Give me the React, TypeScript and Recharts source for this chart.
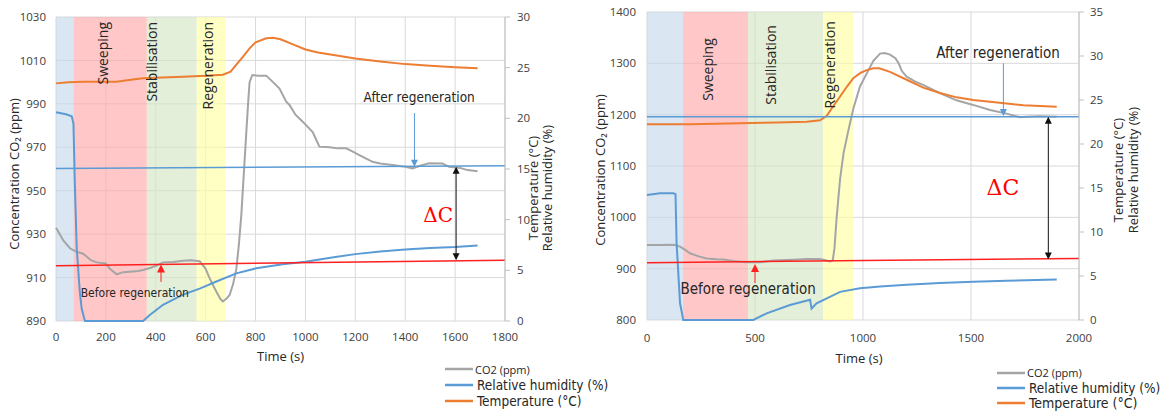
import React from 'react';
import {
  ComposedChart, Line, XAxis, YAxis, CartesianGrid, ReferenceArea,
  ReferenceLine, ReferenceDot, Legend,
} from 'recharts';

type Pt = [number, number];

// ---------------- Left panel data ----------------
const L_X_TICKS = [0, 200, 400, 600, 800, 1000, 1200, 1400, 1600, 1800];
const L_Y_TICKS = [890, 910, 930, 950, 970, 990, 1010, 1030];
const L_R_TICKS = [0, 5, 10, 15, 20, 25, 30];

const L_CO2: Pt[] = [
  [0, 933], [30, 927], [56, 923.5], [80, 922], [109, 921], [140, 918], [163, 917], [200, 916.5],
  [216, 914], [243, 911.5], [270, 912.5], [296, 912.7], [330, 913], [349, 913.5], [380, 914.5],
  [403, 915.5], [429, 917], [470, 917.2], [509, 917.8], [540, 918], [576, 917.5], [600, 914],
  [616, 909.6], [643, 903.5], [660, 900], [669, 899], [685, 900.5], [696, 902], [710, 907],
  [723, 914], [733, 925], [743, 939], [753, 958], [763, 977], [770, 990], [776, 1000],
  [787, 1003.3], [810, 1003], [843, 1003], [870, 1000], [896, 997], [923, 991], [936, 989.5],
  [960, 985], [989, 981.8], [1029, 977], [1045, 973], [1056, 970.3], [1096, 970], [1130, 969.5],
  [1163, 969.5], [1190, 968], [1216, 966.4], [1269, 963.3], [1300, 962.5], [1349, 961.8],
  [1400, 961], [1429, 960.3], [1460, 961.5], [1496, 962.6], [1549, 962.5], [1576, 961],
  [1620, 960.5], [1650, 959.5], [1690, 959],
];
const L_RH: Pt[] = [
  [0, 20.6], [40, 20.4], [63, 20.2], [70, 19.5], [75, 14], [83, 7.2], [95, 3], [103, 1.2],
  [116, 0], [349, 0], [376, 0.6], [429, 1.6], [509, 2.6], [576, 3.2], [643, 3.9], [723, 4.7],
  [803, 5.2], [909, 5.6], [1000, 5.85], [1100, 6.25], [1200, 6.6], [1300, 6.85], [1400, 7.05],
  [1500, 7.2], [1600, 7.3], [1690, 7.45],
];
const L_TEMP: Pt[] = [
  [0, 23.45], [50, 23.55], [109, 23.6], [243, 23.6], [300, 23.8], [349, 23.95], [400, 24.0],
  [509, 24.1], [600, 24.2], [669, 24.3], [700, 24.6], [723, 25.3], [750, 26.1], [776, 26.9],
  [800, 27.5], [843, 27.9], [870, 27.95], [900, 27.8], [950, 27.3], [1000, 26.8], [1050, 26.5],
  [1100, 26.3], [1200, 25.9], [1300, 25.6], [1400, 25.35], [1500, 25.2], [1600, 25.05],
  [1690, 24.95],
];
const L_PHASE_EDGES = [0, 70, 364, 564, 680];
const L_PHASE_LABELS = [
  { text: 'Sweeping', t: 188, c: 1027.7 },
  { text: 'Stabilisation', t: 384, c: 1027.7 },
  { text: 'Regeneration', t: 608, c: 1027.7 },
];
const L_AFTER_LINE: Pt[] = [[0, 960.2], [1800, 961.5]];
const L_BEFORE_LINE: Pt[] = [[0, 915.5], [1800, 918]];
const L_BEFORE_ARROW = { t: 421, from: 908, to: 916 };
const L_AFTER_ARROW = { t: 1437, from: 985.8, to: 961 };
const L_DELTA_ARROW = { t: 1604, from: 961, to: 918 };
const L_BEFORE_TEXT = { t: 316, c: 902.9 };
const L_AFTER_TEXT = { t: 1456, c: 993.2 };
const L_DELTA_TEXT = { t: 1532, c: 938.8 };

// ---------------- Right panel data ----------------
const R_X_TICKS = [0, 500, 1000, 1500, 2000];
const R_Y_TICKS = [800, 900, 1000, 1100, 1200, 1300, 1400];
const R_R_TICKS = [0, 5, 10, 15, 20, 25, 30, 35];

const R_CO2: Pt[] = [
  [0, 946], [60, 946], [106, 946.5], [130, 946], [153, 943], [175, 937], [199, 930], [240, 924],
  [276, 920], [320, 918.5], [353, 918], [400, 915], [461, 912.4], [523, 912.4], [586, 916],
  [650, 917], [700, 918], [740, 919], [801, 919], [830, 916], [847, 914], [860, 916],
  [868, 940], [878, 1000], [894, 1075], [910, 1125], [930, 1165], [956, 1213], [986, 1255],
  [1017, 1280], [1048, 1305], [1079, 1319], [1100, 1320], [1125, 1317], [1150, 1310],
  [1165, 1300], [1180, 1285], [1202, 1274], [1240, 1265], [1278, 1258], [1356, 1242],
  [1433, 1228], [1510, 1219], [1588, 1209], [1665, 1202], [1727, 1195], [1760, 1196],
  [1819, 1197], [1897, 1196],
];
const R_RH: Pt[] = [
  [0, 14.2], [60, 14.4], [122, 14.4], [132, 14.3], [137, 8.7], [153, 1.9], [168, 0], [492, 0],
  [554, 0.76], [662, 1.7], [755, 2.3], [762, 1.3], [785, 1.9], [894, 3.2], [986, 3.6],
  [1079, 3.8], [1202, 4.0], [1356, 4.2], [1510, 4.35], [1665, 4.47], [1897, 4.6],
];
const R_TEMP: Pt[] = [
  [0, 22.24], [200, 22.25], [431, 22.35], [600, 22.45], [740, 22.54], [801, 22.7], [832, 23.2],
  [860, 24.2], [894, 25.4], [925, 26.5], [956, 27.5], [990, 28.1], [1017, 28.4], [1048, 28.6],
  [1075, 28.6], [1125, 28.2], [1202, 27.3], [1279, 26.4], [1356, 25.8], [1433, 25.3],
  [1510, 25.0], [1588, 24.8], [1665, 24.6], [1742, 24.4], [1897, 24.24],
];
const R_PHASE_EDGES = [0, 167, 468, 815, 954];
const R_PHASE_LABELS = [
  { text: 'Sweeping', t: 278, c: 1288 },
  { text: 'Stabilisation', t: 574, c: 1297 },
  { text: 'Regeneration', t: 847, c: 1297 },
];
const R_AFTER_LINE: Pt[] = [[0, 1196], [2000, 1196]];
const R_BEFORE_LINE: Pt[] = [[0, 911.6], [2000, 920]];
const R_BEFORE_ARROW = { t: 500, from: 872, to: 909 };
const R_AFTER_ARROW = { t: 1650, from: 1300, to: 1197.5 };
const R_DELTA_ARROW = { t: 1858, from: 1196, to: 918 };
const R_BEFORE_TEXT = { t: 468, c: 860 };
const R_AFTER_TEXT = { t: 1625, c: 1320 };
const R_DELTA_TEXT = { t: 1648, c: 1059 };

const LEGEND_ITEMS = ['CO2 (ppm)', 'Relative humidity (%)', 'Temperature (°C)'];

// ---------------- styles ----------------
const C_CO2 = '#a5a5a5';
const C_RH = '#5b9bd5';
const C_TEMP = '#ed7d31';
const C_RED = '#ff2020';
const PHASE_FILLS = ['#c6d9eb', '#ffa9a9', '#d4e6c5', '#ffffa4'];
const PHASE_OPACITY = 0.65;
const TICK_FONT = "'Open Sans', sans-serif";
const ANNOT_FONT = "'DejaVu Sans Condensed', 'DejaVu Sans', sans-serif";

const toRows = (pts: Pt[]) => pts.map(([t, v]) => ({ t, v }));

function arrowShape(color: string, both: boolean, width: number, hl: number, hw: number) {
  return (p: any) => {
    const { x1, y1, x2, y2 } = p;
    if ([x1, y1, x2, y2].some((v) => typeof v !== 'number' || isNaN(v))) return <g />;
    const dx = x2 - x1;
    const dy = y2 - y1;
    const len = Math.hypot(dx, dy) || 1;
    const ux = dx / len;
    const uy = dy / len;
    const head = (x: number, y: number, vx: number, vy: number) =>
      `${x},${y} ${x - vx * hl - vy * hw},${y - vy * hl + vx * hw} ${x - vx * hl + vy * hw},${y - vy * hl - vx * hw}`;
    const sx = both ? x1 + ux * hl * 0.8 : x1;
    const sy = both ? y1 + uy * hl * 0.8 : y1;
    return (
      <g>
        <line x1={sx} y1={sy} x2={x2 - ux * hl * 0.8} y2={y2 - uy * hl * 0.8} stroke={color} strokeWidth={width} />
        <polygon points={head(x2, y2, ux, uy)} fill={color} />
        {both && <polygon points={head(x1, y1, -ux, -uy)} fill={color} />}
      </g>
    );
  };
}

function textShape(text: string, style: React.CSSProperties, rotate: boolean, anchor: 'start' | 'middle' | 'end') {
  return (p: any) => {
    const { cx, cy } = p;
    if (typeof cx !== 'number' || typeof cy !== 'number') return <g />;
    return (
      <text
        x={cx}
        y={cy}
        textAnchor={anchor}
        dominantBaseline="central"
        transform={rotate ? `rotate(-90 ${cx} ${cy})` : undefined}
        style={style}
      >
        {text}
      </text>
    );
  };
}

function YTitle(props: any) {
  const vb = props.viewBox || {};
  const { lines, dxs, dy, fontSize } = props;
  const y = (vb.y ?? 0) + (vb.height ?? 0) / 2 + dy;
  return (
    <g>
      {lines.map((ln: string, i: number) => {
        const x = (vb.x ?? 0) + dxs[i];
        return (
          <text
            key={i}
            x={x}
            y={y}
            textAnchor="middle"
            dominantBaseline="central"
            transform={`rotate(-90 ${x} ${y})`}
            style={{ fontFamily: TICK_FONT, fontSize, fill: '#262626' }}
          >
            {ln}
          </text>
        );
      })}
    </g>
  );
}

function XTitle(props: any) {
  const vb = props.viewBox || {};
  const { dx, dy, fontSize } = props;
  const x = (vb.x ?? 0) + (vb.width ?? 0) / 2 + dx;
  const y = (vb.y ?? 0) + dy;
  return (
    <text x={x} y={y} textAnchor="middle" dominantBaseline="central" style={{ fontFamily: TICK_FONT, fontSize, fill: '#262626' }}>
      Time (s)
    </text>
  );
}

function LegendBox(props: { rowH: number; sizes: number[] }) {
  const colors = [C_CO2, C_RH, C_TEMP];
  return (
    <div style={{ fontFamily: ANNOT_FONT, color: '#262626' }}>
      {LEGEND_ITEMS.map((name, i) => (
        <div key={name} style={{ display: 'flex', alignItems: 'center', height: props.rowH, whiteSpace: 'nowrap' }}>
          <svg width={28} height={6} style={{ display: 'block' }}>
            <line x1={0} y1={3} x2={28} y2={3} stroke={colors[i]} strokeWidth={2.5} />
          </svg>
          <span style={{ fontSize: props.sizes[i], marginLeft: i === 0 ? 2 : 4, fontFamily: i === 0 ? TICK_FONT : ANNOT_FONT }}>{name}</span>
        </div>
      ))}
    </div>
  );
}

interface Arrow { t: number; from: number; to: number }
interface Pos { t: number; c: number }

interface PanelProps {
  left: number;
  width: number;
  margin: { top: number; right: number; bottom: number; left: number };
  yWidth: number;
  xTicks: number[];
  yTicks: number[];
  rTicks: number[];
  co2: Pt[];
  rh: Pt[];
  temp: Pt[];
  edges: number[];
  phaseLabels: { text: string; t: number; c: number }[];
  phaseAnchor: 'end' | 'middle';
  phaseFont: number;
  afterLine: Pt[];
  beforeLine: Pt[];
  beforeArrow: Arrow;
  afterArrow: Arrow;
  deltaArrow: Arrow;
  beforeText: Pos;
  afterText: Pos;
  deltaText: Pos;
  beforeFont: number;
  afterFont: number;
  deltaFont: number;
  xTickGap: number;
  yTickGap: number;
  rTickGap: number;
  yTitleDx: number;
  yTitleDy: number;
  rTitleDxs: number[];
  rTitleDy: number;
  xTitleDx: number;
  xTitleDy: number;
  legendPos: { left: number; top: number };
  legendRowH: number;
  legendSizes: number[];
}

function Panel(p: PanelProps) {
  const xMax = p.xTicks[p.xTicks.length - 1];
  const tickStyle = { fontSize: 11.5, fill: '#404040', fontFamily: TICK_FONT };
  return (
    <div style={{ position: 'absolute', left: p.left, top: 0 }}>
      <ComposedChart width={p.width} height={412} margin={p.margin}>
        <CartesianGrid yAxisId="left" stroke="#d9d9d9" strokeWidth={1} />
        <XAxis
          dataKey="t"
          type="number"
          domain={[0, xMax]}
          ticks={p.xTicks}
          height={35}
          axisLine={false}
          tickLine={false}
          tickSize={6}
          tickMargin={p.xTickGap}
          tick={tickStyle}
          interval={0}
          allowDuplicatedCategory={false}
          label={<XTitle dx={p.xTitleDx} dy={p.xTitleDy} fontSize={13} />}
        />
        <YAxis
          yAxisId="left"
          orientation="left"
          type="number"
          domain={[p.yTicks[0], p.yTicks[p.yTicks.length - 1]]}
          ticks={p.yTicks}
          width={p.yWidth}
          axisLine={false}
          tickLine={false}
          tickSize={6}
          tickMargin={p.yTickGap}
          tick={tickStyle}
          interval={0}
          label={<YTitle lines={['Concentration CO₂ (ppm)']} dxs={[p.yTitleDx]} dy={p.yTitleDy} fontSize={13} />}
        />
        <YAxis
          yAxisId="right"
          orientation="right"
          type="number"
          domain={[p.rTicks[0], p.rTicks[p.rTicks.length - 1]]}
          ticks={p.rTicks}
          width={45}
          axisLine={{ stroke: '#bfbfbf' }}
          tickLine={{ stroke: '#bfbfbf' }}
          tickSize={5}
          tickMargin={p.rTickGap}
          tick={tickStyle}
          interval={0}
          label={<YTitle lines={['Temperature (°C)', 'Relative humidity (%)']} dxs={p.rTitleDxs} dy={p.rTitleDy} fontSize={13} />}
        />
        {p.edges.slice(0, -1).map((e, i) => (
          <ReferenceArea
            key={'pa' + i}
            yAxisId="left"
            x1={e}
            x2={p.edges[i + 1]}
            fill={PHASE_FILLS[i]}
            fillOpacity={PHASE_OPACITY}
            stroke="none"
          />
        ))}
        <Line data={toRows(p.co2)} dataKey="v" yAxisId="left" name={LEGEND_ITEMS[0]} stroke={C_CO2} strokeWidth={2} dot={false} type="linear" isAnimationActive={false} />
        <Line data={toRows(p.rh)} dataKey="v" yAxisId="right" name={LEGEND_ITEMS[1]} stroke={C_RH} strokeWidth={2} dot={false} type="linear" isAnimationActive={false} />
        <Line data={toRows(p.temp)} dataKey="v" yAxisId="right" name={LEGEND_ITEMS[2]} stroke={C_TEMP} strokeWidth={2} dot={false} type="linear" isAnimationActive={false} />
        <ReferenceLine
          yAxisId="left"
          segment={[{ x: p.afterLine[0][0], y: p.afterLine[0][1] }, { x: p.afterLine[1][0], y: p.afterLine[1][1] }]}
          stroke={C_RH}
          strokeWidth={1.5}
        />
        <ReferenceLine
          yAxisId="left"
          segment={[{ x: p.beforeLine[0][0], y: p.beforeLine[0][1] }, { x: p.beforeLine[1][0], y: p.beforeLine[1][1] }]}
          stroke={C_RED}
          strokeWidth={1.5}
        />
        <ReferenceLine
          yAxisId="left"
          segment={[{ x: p.beforeArrow.t, y: p.beforeArrow.from }, { x: p.beforeArrow.t, y: p.beforeArrow.to }]}
          shape={arrowShape(C_RED, false, 1, 8, 4)}
        />
        <ReferenceLine
          yAxisId="left"
          segment={[{ x: p.afterArrow.t, y: p.afterArrow.from }, { x: p.afterArrow.t, y: p.afterArrow.to }]}
          shape={arrowShape(C_RH, false, 1, 7, 3.5)}
        />
        <ReferenceLine
          yAxisId="left"
          segment={[{ x: p.deltaArrow.t, y: p.deltaArrow.from }, { x: p.deltaArrow.t, y: p.deltaArrow.to }]}
          shape={arrowShape('#111111', true, 1, 7, 3.5)}
        />
        {p.phaseLabels.map((lb) => (
          <ReferenceDot
            key={lb.text}
            yAxisId="left"
            x={lb.t}
            y={lb.c}
            r={0}
            shape={textShape(lb.text, { fontFamily: TICK_FONT, fontSize: p.phaseFont, fill: '#262626' }, true, p.phaseAnchor)}
          />
        ))}
        <ReferenceDot
          yAxisId="left"
          x={p.beforeText.t}
          y={p.beforeText.c}
          r={0}
          shape={textShape('Before regeneration', { fontFamily: ANNOT_FONT, fontSize: p.beforeFont, fill: '#262626' }, false, 'middle')}
        />
        <ReferenceDot
          yAxisId="left"
          x={p.afterText.t}
          y={p.afterText.c}
          r={0}
          shape={textShape('After regeneration', { fontFamily: ANNOT_FONT, fontSize: p.afterFont, fill: '#262626' }, false, 'middle')}
        />
        <ReferenceDot
          yAxisId="left"
          x={p.deltaText.t}
          y={p.deltaText.c}
          r={0}
          shape={textShape('ΔC', { fontFamily: "'DejaVu Serif', 'Liberation Serif', serif", fontSize: p.deltaFont, fill: '#ff0000' }, false, 'middle')}
        />
        <Legend
          layout="vertical"
          align="center"
          verticalAlign="middle"
          wrapperStyle={{ left: p.legendPos.left, top: p.legendPos.top, width: 220 }}
          content={() => <LegendBox rowH={p.legendRowH} sizes={p.legendSizes} />}
        />
      </ComposedChart>
    </div>
  );
}

export default function App() {
  return (
    <div style={{ position: 'absolute', left: 0, top: 0, width: 1166, height: 412, background: '#ffffff', overflow: 'hidden' }}>
      <Panel
        left={0}
        width={600}
        margin={{ top: 17, right: 50, bottom: 56, left: 0 }}
        yWidth={56}
        xTicks={L_X_TICKS}
        yTicks={L_Y_TICKS}
        rTicks={L_R_TICKS}
        co2={L_CO2}
        rh={L_RH}
        temp={L_TEMP}
        edges={L_PHASE_EDGES}
        phaseLabels={L_PHASE_LABELS}
        phaseAnchor="end"
        phaseFont={14}
        afterLine={L_AFTER_LINE}
        beforeLine={L_BEFORE_LINE}
        beforeArrow={L_BEFORE_ARROW}
        afterArrow={L_AFTER_ARROW}
        deltaArrow={L_DELTA_ARROW}
        beforeText={L_BEFORE_TEXT}
        afterText={L_AFTER_TEXT}
        deltaText={L_DELTA_TEXT}
        beforeFont={12}
        afterFont={13.5}
        deltaFont={20}
        xTickGap={6}
        yTickGap={4}
        rTickGap={7}
        yTitleDx={14}
        yTitleDy={5}
        rTitleDxs={[28, 42]}
        rTitleDy={19}
        xTitleDx={0}
        xTitleDy={35}
        legendPos={{ left: 445, top: 361 }}
        legendRowH={16}
        legendSizes={[11, 13.5, 13.5]}
      />
      <Panel
        left={590}
        width={576}
        margin={{ top: 12, right: 42, bottom: 57, left: 0 }}
        yWidth={57}
        xTicks={R_X_TICKS}
        yTicks={R_Y_TICKS}
        rTicks={R_R_TICKS}
        co2={R_CO2}
        rh={R_RH}
        temp={R_TEMP}
        edges={R_PHASE_EDGES}
        phaseLabels={R_PHASE_LABELS}
        phaseAnchor="middle"
        phaseFont={14}
        afterLine={R_AFTER_LINE}
        beforeLine={R_BEFORE_LINE}
        beforeArrow={R_BEFORE_ARROW}
        afterArrow={R_AFTER_ARROW}
        deltaArrow={R_DELTA_ARROW}
        beforeText={R_BEFORE_TEXT}
        afterText={R_AFTER_TEXT}
        deltaText={R_DELTA_TEXT}
        beforeFont={15}
        afterFont={15}
        deltaFont={22}
        xTickGap={8}
        yTickGap={5}
        rTickGap={6}
        yTitleDx={10}
        yTitleDy={4}
        rTitleDxs={[39, 54]}
        rTitleDy={4}
        xTitleDx={-4}
        xTitleDy={38}
        legendPos={{ left: 407, top: 365 }}
        legendRowH={15}
        legendSizes={[11, 13.5, 14]}
      />
    </div>
  );
}
